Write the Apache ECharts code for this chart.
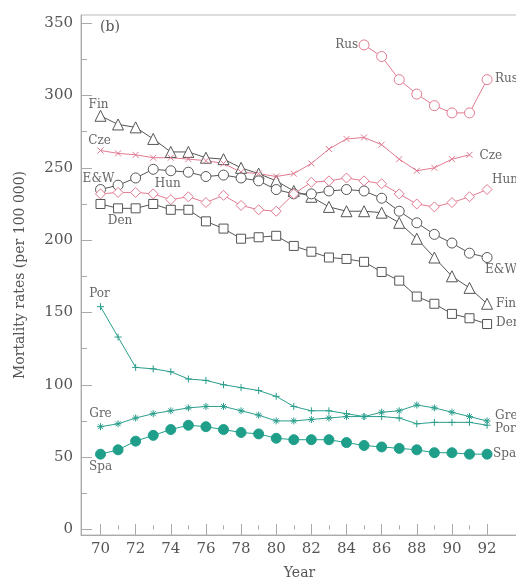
<!DOCTYPE html>
<html>
<head>
<meta charset="utf-8">
<script src="https://cdn.jsdelivr.net/npm/echarts@6/dist/echarts.min.js"></script>
<style>
  html, body { margin: 0; padding: 0; background: #fff; }
  #chart { width: 516px; height: 577px; }
</style>
</head>
<body>
<div id="chart"></div>
<script>
// years 70..92
var years = [70, 71, 72, 73, 74, 75, 76, 77, 78, 79, 80, 81, 82, 83, 84, 85, 86, 87, 88, 89, 90, 91, 92];

var rus = [null, null, null, null, null, null, null, null, null, null, null, null, null, null, null,
           335, 327, 311, 301, 293, 288, 288, 311];
var fin = [286, 280, 278, 270, 261, 261, 257, 256, 250, 246, 241, 234, 230, 223, 220, 220, 219, 212, 201, 188, 175, 167, 156];
var cze = [262, 260, 259, 257, 257, 256, 255, 253, 247, 246, 244, 246, 253, 263, 270, 271, 266, 256, 248, 250, 256, 259, null];
var ew  = [235, 238, 243, 249, 248, 247, 244, 245, 243, 241, 235, 232, 232, 234, 235, 234, 229, 220, 212, 204, 198, 191, 188];
var hun = [232, 233, 233, 232, 228, 230, 226, 231, 224, 221, 220, 232, 240, 241, 243, 241, 239, 232, 225, 223, 226, 230, 235];
var den = [225, 222, 222, 225, 221, 221, 213, 208, 201, 202, 203, 196, 192, 188, 187, 185, 178, 172, 161, 156, 149, 146, 142];
var por = [154, 133, 112, 111, 109, 104, 103, 100, 98, 96, 92, 85, 82, 82, 80, 78, 78, 77, 73, 74, 74, 74, 72];
var gre = [71, 73, 77, 80, 82, 84, 85, 85, 82, 79, 75, 75, 76, 77, 78, 78, 81, 82, 86, 84, 81, 78, 75];
var spa = [52, 55, 61, 65, 69, 72, 71, 69, 67, 66, 63, 62, 62, 62, 60, 58, 57, 56, 55, 53, 53, 52, 52];

var yLabels = [0, 50, 100, 150, 200, 250, 300, 350];
var yMinor = [25, 75, 125, 175, 225, 275, 325];
var xLabels = [70, 72, 74, 76, 78, 80, 82, 84, 86, 88, 90, 92];
var xMinor = [71, 73, 75, 77, 79, 81, 83, 85, 87, 89, 91];

var GRAY = '#555';
var PINK = '#e07a90';
var TEAL = '#2a9e8c';
var SERIF = 'DejaVu Serif';

var labelStyle = { show: true, position: 'inside', fontFamily: SERIF, fontSize: 12, color: '#666' };

// name, values, colour, symbol, size, hollow, [start idx, dx, dy, align], [end dx, dy]
var defs = [
  ['Rus', rus, PINK, 'circle', 10, true, [15, -6, 0, 'right'], [8, -1]],
  ['Fin', fin, GRAY, 'triangle', 11, true, [0, -2, -11, 'center'], [9, 0]],
  ['Cze', cze, PINK, 'path://M0,0L10,10M10,0L0,10', 6, false, [0, -1, -10, 'center'], [10, 1]],
  ['E&W', ew, GRAY, 'circle', 10, true, [0, -2, -11, 'center'], [-2, 12]],
  ['Hun', hun, PINK, 'diamond', 10, true, [4, -3, -16, 'center'], [5, -10]],
  ['Den', den, GRAY, 'rect', 9, true, [1, 2, 13, 'center'], [9, -1]],
  ['Por', por, TEAL, 'path://M5,0L5,10M0,5L10,5', 7, false, [0, -1, -13, 'center'], [8, 4]],
  ['Gre', gre, TEAL, 'path://M5,0L5,10M0,5L10,5M1.5,1.5L8.5,8.5M8.5,1.5L1.5,8.5', 7, false, [0, 0, -13, 'center'], [8, -5]],
  ['Spa', spa, '#1f9f8a', 'circle', 10, false, [0, 0, 13, 'center'], [6, 0]]
];

function buildSeries(d) {
  var vals = d[1];
  var last = -1;
  for (var k = 0; k < vals.length; k++) if (vals[k] != null) last = k;
  var data = years.map(function (yr, i) {
    var item = { value: [yr, vals[i]] };
    if (i === d[6][0]) {
      item.label = Object.assign({}, labelStyle, { formatter: d[0], offset: [d[6][1], d[6][2]], align: d[6][3] });
    } else if (i === last) {
      item.label = Object.assign({}, labelStyle, { formatter: d[0], offset: [d[7][0], d[7][1]], align: 'left' });
    }
    return item;
  });
  return {
    name: d[0],
    type: 'line',
    data: data,
    symbol: d[3],
    symbolSize: d[4],
    showAllSymbol: true,
    lineStyle: { color: d[2], width: 1 },
    itemStyle: { color: d[5] ? '#fff' : d[2], borderColor: d[2], borderWidth: 1 },
    emphasis: { disabled: true },
    label: { show: false },
    z: 3
  };
}

var chart = echarts.init(document.getElementById('chart'));
var axisCol = '#aaa';
chart.setOption({
  animation: false,
  grid: { left: 81, top: 15, right: -2, bottom: 42, outerBoundsMode: 'none', show: true, borderColor: '#bbb', borderWidth: 1 },
  xAxis: [{
    type: 'value', min: 68.89, max: 93.76, position: 'bottom',
    name: 'Year', nameLocation: 'middle', nameGap: 31,
    nameTextStyle: { fontFamily: SERIF, fontSize: 14, color: '#555' },
    axisLine: { onZero: false, lineStyle: { color: axisCol } },
    axisTick: { inside: true, length: 11, customValues: xLabels, lineStyle: { color: axisCol } },
    axisLabel: { customValues: xLabels, margin: 7, fontFamily: SERIF, fontSize: 15, color: '#555' },
    splitLine: { show: false }
  }, {
    type: 'value', min: 68.89, max: 93.76, position: 'bottom',
    axisLine: { show: false },
    axisTick: { inside: true, length: 4, customValues: xMinor, lineStyle: { color: axisCol } },
    axisLabel: { show: false },
    splitLine: { show: false }
  }],
  yAxis: [{
    type: 'value', min: -3.9, max: 355.7, position: 'left',
    name: 'Mortality rates (per 100 000)', nameLocation: 'middle', nameGap: 54,
    nameTextStyle: { fontFamily: SERIF, fontSize: 14, color: '#555' },
    axisLine: { show: true, onZero: false, lineStyle: { color: axisCol } },
    axisTick: { show: true, inside: true, length: 11, customValues: yLabels, lineStyle: { color: axisCol } },
    axisLabel: { customValues: yLabels, margin: 8, fontFamily: SERIF, fontSize: 15, color: '#555' },
    splitLine: { show: false }
  }, {
    type: 'value', min: -3.9, max: 355.7, position: 'left',
    axisLine: { show: false },
    axisTick: { show: true, inside: true, length: 6, customValues: yMinor, lineStyle: { color: axisCol } },
    axisLabel: { show: false },
    splitLine: { show: false }
  }],
  graphic: [{
    type: 'text', left: 100, top: 20,
    style: { text: '(b)', fontFamily: SERIF, fontSize: 14, fill: '#555' }
  }],
  series: defs.map(buildSeries)
});
</script>
</body>
</html>
